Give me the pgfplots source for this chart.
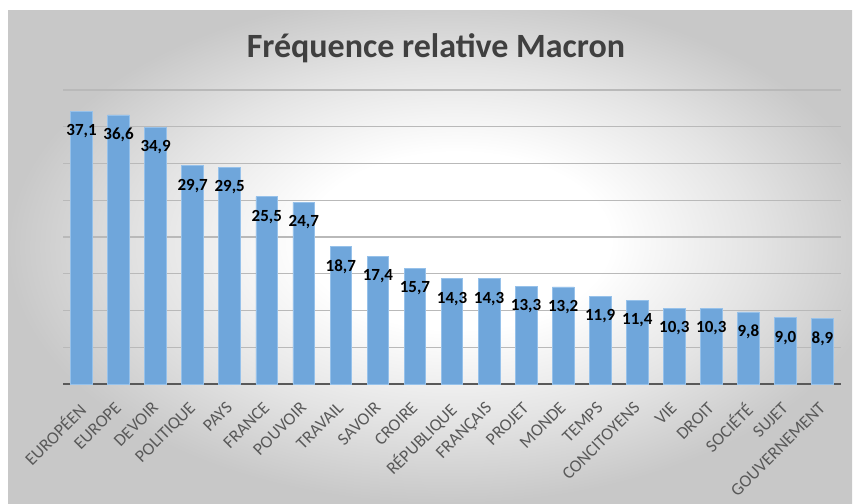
\documentclass[border=0pt]{standalone}
\usepackage{pgfplots}
\pgfplotsset{compat=1.18}
\usepackage{fontspec}
\setmainfont{Carlito}
\definecolor{barblue}{RGB}{111,166,219}
\definecolor{baredge}{RGB}{150,193,234}
\definecolor{gridgray}{RGB}{185,185,185}
\definecolor{axisgray}{RGB}{89,89,89}
\definecolor{titlegray}{RGB}{64,64,64}
\definecolor{bgmid}{RGB}{228,228,228}
\definecolor{bgouter}{RGB}{200,200,200}
\pgfdeclareradialshading{bgshade}{\pgfpoint{2bp}{2bp}}{color(0bp)=(white); color(9bp)=(white); color(18bp)=(bgmid); color(26bp)=(bgouter); color(50bp)=(bgouter)}
\begin{document}
\begin{tikzpicture}[x=1pt,y=1pt]
\useasboundingbox (0,0) rectangle (853,503);
\fill[white] (0,0) rectangle (853,503);
\shade[shading=bgshade] (8,0) rectangle (852,492);
\node[font=\fontsize{34}{38}\selectfont\bfseries, text=titlegray] at (436,455) {Fréquence relative Macron};
\begin{axis}[
  at={(63pt,119pt)}, anchor=south west,
  scale only axis, width=778pt, height=294pt,
  ybar, bar width=21.7pt,
  xmin=-0.5, xmax=20.5, ymin=0, ymax=40,
  axis lines=left,
  x axis line style={draw=axisgray, line width=2.2pt, -},
  y axis line style={draw=none},
  ytick={0,5,...,40},
  yticklabels={},
  ytick style={draw=none},
  ymajorgrids,
  grid style={draw=gridgray, line width=1.2pt},
  xtick=data,
  xtick style={draw=none},
  xticklabels={EUROPÉEN,EUROPE,DEVOIR,POLITIQUE,PAYS,FRANCE,POUVOIR,TRAVAIL,SAVOIR,CROIRE,RÉPUBLIQUE,FRANÇAIS,PROJET,MONDE,TEMPS,CONCITOYENS,VIE,DROIT,SOCIÉTÉ,SUJET,GOUVERNEMENT},
  xticklabel style={rotate=45, anchor=north east, font=\fontsize{17.5}{19}\selectfont, text=axisgray, inner sep=0pt, xshift=-13.5pt, yshift=-7.2pt},
  nodes near coords,
  nodes near coords style={font=\fontsize{17}{19}\selectfont\bfseries, text=black, anchor=center, yshift=-20pt},
  /pgf/number format/.cd, fixed, fixed zerofill, precision=1, use comma, assume math mode=true,
]
\addplot[fill=barblue, draw=baredge, line width=0.8pt] coordinates {
(0,37.1) (1,36.6) (2,34.9) (3,29.7) (4,29.5) (5,25.5) (6,24.7) (7,18.7) (8,17.4) (9,15.7) (10,14.3) (11,14.3) (12,13.3) (13,13.2) (14,11.9) (15,11.4) (16,10.3) (17,10.3) (18,9.8) (19,9.0) (20,8.9)
};
\end{axis}
\end{tikzpicture}
\end{document}
